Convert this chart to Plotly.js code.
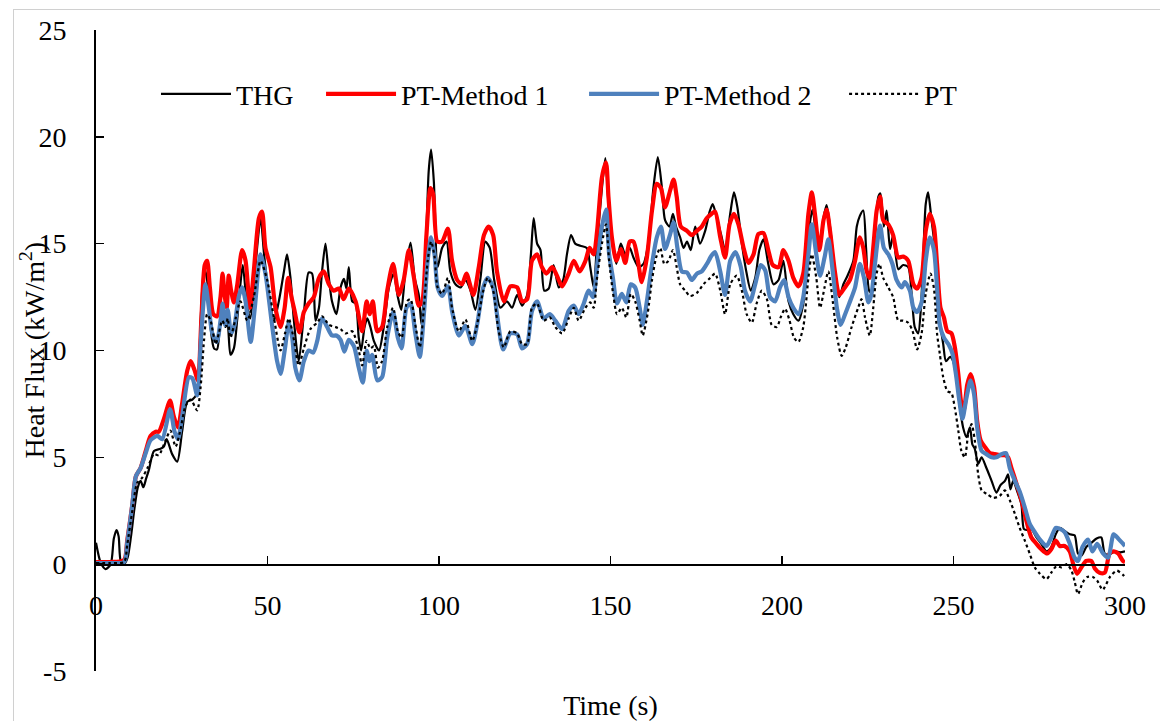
<!DOCTYPE html>
<html>
<head>
<meta charset="utf-8">
<script src="https://cdn.plot.ly/plotly-3.0.1.min.js"></script>
<style>
  html, body { margin:0; padding:0; overflow:hidden; background:#fff; }
  #frame { position:absolute; left:13px; top:9px; width:1300px; height:900px; border:1px solid #d0d0d0; pointer-events:none; }
  #chart { position:absolute; left:0; top:0; width:1160px; height:721px; }
</style>
</head>
<body>
<div id="chart"></div>
<div id="frame"></div>
<script>
// Series: [time (s), heat flux (kW/m2)]
const thg = [[0,1.0],[1.4,0.05],[2.8,-0.23],[4.3,0],[5.2,1.2],[6.0,1.6],[6.6,1.3],[7.2,0.15],[8.2,0],[9.2,0.3],[10.2,1.3],[11.2,2.6],[12.2,3.6],[13,3.9],[13.8,3.6],[14.6,4.0],[15.4,4.4],[16.9,5.3],[18.8,5.4],[19.8,5.5],[20.6,5.85],[22.2,5.15],[23.7,4.8],[25.1,6.2],[26.6,7.6],[28.1,7.7],[29.5,8.0],[30.5,11.4],[31.5,13.9],[32.4,13.3],[33.4,11.1],[34.4,10.1],[35.3,10.05],[36.3,11.4],[37.3,11.7],[38.3,11.4],[39.2,9.8],[40.2,10.1],[41.2,11.5],[42.1,13.1],[42.8,14.0],[44.1,12.0],[45,11.5],[46.5,14.0],[48,16.2],[49,14.5],[50.4,12.6],[51.9,11.4],[53.3,12.3],[54.8,13.7],[55.7,14.5],[56.7,13.4],[57.7,11.4],[59.1,9.5],[60.6,11.7],[62,13.65],[63,13.6],[64,11.4],[65,12.0],[65.9,13.7],[66.9,15.0],[67.9,13.4],[68.8,12.3],[70.1,11.7],[71.3,12.95],[72.3,13.35],[73,12.9],[73.7,13.9],[74.7,12.3],[75.7,12.2],[76.6,10.6],[77.3,10.0],[78.3,11.1],[79.1,11.5],[80,11.1],[81,10.45],[82.5,10.0],[83.9,11.1],[85.4,12.95],[86.8,13.6],[88,12.5],[89,11.9],[90.2,13.7],[91.7,15.05],[92.9,13.4],[94.1,12.6],[94.9,11.2],[96.1,14.5],[97,18.4],[97.7,19.4],[98.5,17.9],[99.6,13.9],[100.9,14.8],[102.2,15.1],[103.3,13.7],[104.8,13.1],[106.3,12.95],[107.7,13.3],[109.2,12.8],[110.6,11.9],[112.1,13.4],[113.5,15.1],[114.8,14.8],[116.1,13.3],[117.9,12.0],[119.8,12.3],[121.3,12.0],[122.8,12.6],[124.2,12.1],[125.7,12.6],[126.8,14.5],[127.6,16.2],[128.6,15.0],[129.6,14.7],[130.7,12.8],[132,12.9],[133.4,14.0],[134.9,12.95],[136.2,13.3],[137.3,14.5],[138.5,15.4],[139.7,15.0],[141.2,14.9],[143.1,14.8],[144.1,13.9],[145.1,12.95],[146,14.8],[147.5,17.6],[148.5,19.0],[149.4,16.9],[150.4,15.3],[151.7,14.05],[153,15.0],[154.3,14.5],[155.6,14.8],[156.7,14.35],[158.2,13.9],[159.6,14.05],[161.1,15.1],[162.5,17.6],[163.8,19.05],[165,17.6],[165.9,16.1],[167.2,15.8],[168.2,16.4],[169.1,15.8],[170.3,15.3],[171.3,14.8],[172.3,15.1],[173.4,14.7],[174.7,15.8],[176.1,15.0],[177.6,15.6],[178.9,16.5],[179.8,16.85],[181,16.2],[182.2,15.45],[183.4,14.7],[184.9,16.4],[186,17.4],[187,16.7],[188.3,15.0],[189.7,13.6],[190.9,12.8],[192.2,13.4],[193.4,14.7],[194.6,15.2],[196,14.05],[197.5,13.1],[199,13.3],[200.4,14.2],[201.9,12.3],[203.3,11.7],[204.8,11.4],[206.2,12.2],[207.7,15.45],[208.9,16.6],[210.1,15.3],[211.1,14.9],[212.1,16.2],[213,16.8],[214,15.8],[215.5,13.6],[216.7,12.5],[217.9,13.1],[219.1,13.5],[220.8,14.2],[221.8,15.8],[222.7,16.3],[223.7,16.55],[224.5,14.8],[225.4,12.8],[226.1,12.7],[227.1,15.3],[228.1,17.2],[228.7,17.35],[229.7,15.8],[230.5,16.55],[231.5,14.75],[232.4,15.4],[233.9,13.8],[235.3,14.0],[236.8,13.9],[237.8,12.65],[238.7,11.1],[239.7,10.8],[240.5,12.0],[241.2,14.5],[241.9,16.85],[242.6,17.4],[243.6,16.1],[244.6,14.8],[245.2,13.7],[246,11.4],[247,10.3],[247.8,9.5],[249,9.7],[249.9,9.5],[250.9,8.6],[251.9,7.3],[252.8,6.4],[253.8,5.95],[254.8,6.4],[255.5,5.6],[256.2,5.4],[257.2,4.7],[258.2,5.0],[259.6,4.5],[261.1,3.9],[262.5,3.35],[263.7,3.7],[265,3.9],[265.9,4.2],[266.6,3.5],[267.4,3.9],[268.6,3.4],[269.8,2.8],[270.5,1.65],[271.3,1.6],[272.7,1.65],[274.2,1.25],[275.6,0.95],[277.1,0.6],[278.5,0.8],[279.8,1.4],[281,1.7],[282.4,1.55],[283.9,1.4],[285.3,1.35],[286.3,0.5],[287.3,0.4],[288.7,0.8],[290.2,1.0],[291.7,1.2],[293.1,1.25],[294.1,0.5],[295.5,0.45],[297,0.6],[298.5,0.55],[300,0.6]];

const ptMethod1 = [[0,0.1],[4,0.1],[8.2,0.2],[9.1,1.1],[10.6,2.8],[11.6,4.1],[13,4.5],[14.5,5.3],[15.9,6.0],[17.4,6.2],[18.3,6.2],[19.8,6.8],[21.6,7.65],[22.7,6.9],[23.9,6.4],[25.1,7.5],[26.6,9.05],[27.6,9.5],[28.7,9.1],[29.7,8.6],[30.7,11.4],[31.7,14.0],[32.4,14.2],[33.2,12.95],[34.2,11.7],[35.3,11.6],[36.3,12.5],[36.9,13.6],[37.5,12.6],[38.1,12.0],[38.7,13.5],[39.4,12.8],[40.2,12.25],[41.2,13.1],[42.6,14.7],[43.6,14.2],[44.9,12.0],[46,13.7],[47.5,16.2],[48.4,16.5],[49.4,14.8],[50.9,13.9],[52.3,12.0],[53.8,11.1],[55,12.0],[56,13.4],[57,12.5],[57.9,11.85],[59.3,10.85],[60.6,11.8],[62,12.2],[63.5,12.5],[65,13.4],[66.4,13.7],[67.9,13.1],[69.3,12.8],[70.8,12.9],[72.2,12.4],[73.7,12.9],[75.7,12.3],[77.6,10.9],[78.9,12.3],[79.8,11.7],[80.7,12.3],[82,10.9],[83.4,11.1],[84.9,12.8],[86.6,14.05],[88.3,12.6],[89.7,13.3],[91.2,14.7],[92.7,13.4],[94.1,12.1],[95.1,12.3],[96.3,15.3],[97.5,17.6],[98.3,17.3],[99.5,15.1],[100.9,15.1],[102.6,15.7],[103.8,14.2],[105.3,13.3],[106.7,13.1],[108,13.6],[110,12.6],[111.6,13.9],[113.1,15.4],[114.5,15.8],[115.8,15.4],[116.9,13.7],[118.9,12.3],[120.8,13.0],[122.8,12.95],[124.2,12.3],[125.7,12.4],[127.1,14.2],[128.6,14.5],[130,13.9],[131.3,13.6],[133,13.9],[134.4,13.5],[135.9,13.0],[137.8,13.6],[139.3,14.2],[141,13.7],[142.7,14.2],[143.9,14.8],[145.1,14.5],[146.1,15.6],[147.5,18.1],[148.7,18.8],[149.4,17.2],[150.4,15.3],[151.7,14.2],[153,14.75],[154.3,14.1],[155.6,15.1],[156.7,15.1],[158,14.2],[159.1,13.2],[160.6,14.35],[162.1,16.55],[163.5,17.8],[164.7,17.6],[165.9,16.7],[167.4,17.5],[168.4,18.0],[169.3,17.2],[170.5,15.8],[172.3,15.6],[173.7,15.4],[175.2,15.6],[176.6,15.8],[178.1,16.2],[179.5,16.4],[180.5,16.5],[182,15.3],[183.4,14.35],[184.7,15.9],[186,16.4],[187.3,15.9],[188.8,14.8],[190.2,14.1],[191.7,14.5],[193.1,15.45],[194.6,15.5],[196,14.7],[197.3,14.0],[199,13.9],[200.4,14.7],[201.9,14.2],[203.3,13.4],[204.8,13.0],[206.2,13.6],[207.7,16.4],[208.7,17.4],[209.6,16.4],[210.9,14.7],[212.1,16.1],[213,16.6],[214,15.6],[215.5,13.6],[216.7,12.6],[218.1,12.9],[219.8,13.3],[221.3,14.2],[222.7,15.3],[223.7,14.8],[224.7,13.7],[225.6,13.4],[226.6,14.8],[227.6,16.55],[228.6,17.2],[229.5,16.1],[231,15.9],[232.4,15.4],[233.9,14.35],[235.3,14.4],[236.8,14.2],[238.3,13.1],[239.4,12.9],[240.7,13.4],[241.9,15.6],[243.1,16.4],[244.3,15.8],[245.2,14.05],[246.2,12.0],[247.2,11.55],[248.2,10.9],[249.4,10.8],[250.4,10.15],[251.4,8.9],[252.3,7.5],[253,7.2],[254,8.4],[255,8.9],[256,8.3],[256.9,6.7],[257.9,5.8],[259.1,5.5],[260.6,5.2],[262,5.15],[263.5,5.1],[265,5.1],[265.9,5.0],[266.9,4.5],[268.4,3.75],[269.8,3.0],[271.3,2.0],[272.7,1.25],[274.2,0.95],[275.6,0.7],[277.3,0.5],[278.5,0.7],[279.8,1.1],[281,0.85],[282.4,0.85],[283.9,0.6],[284.9,0],[286,-0.45],[287.3,-0.15],[288.7,0.15],[290.2,0.15],[291.2,-0.2],[292.6,-0.4],[294.1,-0.4],[295.5,0.5],[296.7,0.6],[298,0.5],[299.4,0.15],[300,0.1]];

const ptMethod2 = [[0,0.05],[4,0.05],[8.2,0.1],[9.1,1.0],[10.6,2.8],[11.6,4.1],[13,4.5],[14.5,5.2],[15.9,5.8],[17.9,6.0],[19.3,5.85],[21.6,7.25],[22.9,6.2],[23.9,5.85],[25.1,6.9],[27.1,8.75],[28.1,8.7],[29.5,7.9],[30.7,10.8],[31.9,13.1],[32.9,12.0],[33.9,10.8],[35.2,10.4],[36.3,11.4],[36.9,12.2],[37.6,11.2],[38.4,11.9],[39.4,10.8],[40.4,11.2],[41.6,12.5],[42.6,12.95],[43.6,12.3],[45.1,10.4],[46.3,12.0],[48,14.5],[49.4,13.6],[51.4,11.1],[52.8,9.5],[53.8,8.9],[55.1,10.1],[56.2,11.3],[57.2,10.6],[58.1,9.2],[59.3,8.6],[60.6,9.5],[62,10.0],[63.3,9.9],[64.5,10.45],[65.9,11.5],[67.4,11.1],[68.8,10.7],[70.1,10.7],[71.3,10.5],[72.4,9.95],[73.7,10.5],[75.2,10.2],[76.6,9.2],[77.8,8.5],[78.9,10.0],[79.7,9.5],[80.5,9.8],[82,8.6],[83.4,8.75],[84.9,10.6],[86.6,11.8],[88,10.6],[89.1,10.1],[90.5,12.0],[91.7,12.2],[93.1,10.8],[94.4,9.7],[95.6,11.7],[96.7,14.2],[97.7,15.3],[98.7,14.5],[99.6,12.95],[100.9,12.55],[102.6,13.0],[103.8,11.85],[105.8,10.7],[107.7,11.15],[109.7,10.3],[111.1,11.2],[112.9,12.95],[114.2,13.4],[115.8,12.95],[116.9,11.7],[118.7,10.05],[120.8,10.8],[122.8,10.75],[124.2,10.1],[125.7,10.3],[127.1,11.85],[128.6,12.3],[130.5,11.5],[132.3,11.7],[133.9,11.4],[135.9,11.0],[137.8,11.85],[139.3,12.1],[140.7,11.7],[142.2,12.2],[143.6,12.8],[144.9,12.5],[146.1,14.0],[147.5,15.8],[148.7,16.6],[149.6,14.5],[150.7,13.4],[151.9,12.2],[153.3,12.65],[154.6,12.25],[155.9,13.1],[157.2,12.95],[158.5,12.0],[159.4,11.2],[160.6,12.3],[162.1,14.05],[163.5,15.3],[164.7,15.8],[165.9,14.75],[167.4,15.45],[168.4,16.0],[169.5,14.8],[170.8,13.7],[172.3,13.65],[173.7,13.3],[175.2,13.6],[176.6,13.7],[178.1,14.05],[179.5,14.45],[180.5,14.6],[182,13.7],[183.4,12.6],[184.9,14.2],[186.5,14.6],[188,13.9],[189.2,12.8],[190.7,12.3],[192.2,13.1],[193.8,14.0],[195.1,13.75],[196.5,12.5],[198,12.3],[199.4,12.95],[200.6,13.3],[201.9,12.5],[203.3,12.0],[204.8,11.7],[206.2,12.5],[207.7,14.5],[208.7,15.9],[210,14.5],[211.1,13.5],[212.4,14.35],[213.5,15.2],[214.8,13.7],[216,12.0],[217.1,11.2],[218.4,11.7],[219.6,12.2],[221.3,12.95],[222.7,14.05],[223.9,13.4],[225.2,12.25],[226.1,12.65],[227.1,14.05],[228.6,15.85],[229.7,14.8],[231,14.5],[232.2,14.05],[233.4,13.3],[234.9,12.95],[235.8,13.2],[237.3,12.8],[238.3,12.0],[239.4,11.8],[240.7,12.25],[241.9,14.2],[243.1,15.3],[244.3,14.7],[245.2,12.95],[246,11.2],[247.2,10.6],[248.5,10.3],[249.7,9.85],[250.7,8.9],[251.7,7.65],[252.6,6.8],[253.8,7.8],[255,8.6],[256,7.95],[256.9,6.4],[258.2,5.3],[259.6,5.15],[261.1,5.0],[262.5,5.0],[264,5.15],[265.3,5.2],[266.4,4.5],[267.9,3.9],[269.3,3.4],[270.8,2.65],[272.2,1.9],[273.7,1.5],[275.2,1.15],[277.1,0.85],[278.5,1.25],[279.8,1.7],[281,1.65],[282.4,1.5],[283.9,0.95],[285.3,0.3],[286.3,0.15],[287.6,0.8],[289.2,1.15],[290.5,0.6],[291.9,0.95],[293.6,0.5],[295.1,0.3],[296.7,1.4],[298.3,1.15],[300,0.85]];

const pt = [[0,0.05],[4,0.05],[8.2,0.1],[9.1,0.9],[10.6,2.5],[12,3.8],[13.5,4.05],[15,4.5],[16.9,5.15],[18.3,5.1],[20.3,5.8],[21.7,6.25],[23.2,5.5],[24.5,6.2],[26.1,7.4],[27.6,7.7],[29.5,7.2],[30.5,8.3],[31.5,10.5],[32.4,11.7],[33.4,11.4],[34.9,10.3],[35.8,10.8],[36.8,11.4],[37.8,11.1],[38.4,11.5],[39.2,10.6],[40.7,11.5],[42.1,12.3],[44.1,11.4],[46,12.5],[48,14.2],[49.9,13.3],[51.9,11.5],[53.8,10.0],[55.1,10.8],[56.2,11.5],[57.7,10.5],[59.1,9.3],[60.6,10.1],[62.5,11.0],[64.5,11.3],[65.9,11.6],[67.9,11.2],[69.8,11.1],[71.3,11.0],[72.8,10.8],[74.7,10.9],[76.6,10.0],[77.6,9.3],[78.9,10.45],[80,10.1],[81,10.2],[82.2,9.2],[83.4,9.5],[84.9,11.1],[86.6,12.0],[88,10.9],[89.1,10.6],[90.7,12.3],[91.7,12.4],[93.1,11.2],[94.4,10.15],[95.6,12.0],[96.7,14.2],[97.7,15.1],[98.7,14.4],[99.6,12.95],[100.9,12.65],[102.6,13.4],[103.8,12.0],[105.8,10.9],[107.7,11.45],[109.7,10.45],[111.1,11.2],[112.9,12.8],[114.2,13.4],[115.8,12.8],[117.4,10.9],[118.9,10.15],[120.8,10.9],[122.8,10.8],[124.2,10.3],[125.7,10.3],[127.1,12.0],[128.6,12.2],[130.5,11.4],[132.3,11.55],[133.9,11.1],[135.9,10.8],[137.8,11.5],[139.3,12.0],[140.7,11.4],[142.7,12.0],[144.1,12.25],[145.1,12.0],[146,13.3],[147.5,15.0],[148.7,15.9],[149.6,14.2],[150.9,12.5],[151.9,11.7],[153.3,12.0],[154.6,11.55],[155.9,12.65],[157.2,12.3],[158.5,11.4],[159.4,10.7],[160.8,11.7],[162.1,13.3],[163.3,14.35],[164.5,14.8],[165.7,14.05],[166.9,14.2],[168.2,14.7],[169.3,13.9],[170.3,13.1],[171.8,12.8],[173.2,12.55],[175.2,12.7],[177.1,13.1],[179.1,13.4],[180.5,13.6],[182,12.8],[183.4,11.7],[184.9,13.1],[186.8,13.5],[188.3,12.8],[189.7,11.7],[191.2,11.3],[192.6,12.2],[194.1,12.8],[195.6,12.4],[197,11.2],[198.5,11.1],[199.6,11.55],[200.9,11.95],[202.2,11.4],[203.5,10.6],[204.8,10.4],[206.2,11.1],[207.7,13.4],[208.7,14.5],[210,13.4],[211.1,12.0],[212.4,12.95],[213.5,13.7],[214.8,12.3],[216.1,10.6],[217.4,9.75],[218.6,10.15],[220.3,11.1],[222.2,12.0],[223.2,12.4],[224.2,11.55],[225.6,10.7],[226.6,12.0],[227.6,13.6],[228.4,14.05],[229.5,13.4],[231,12.95],[232.4,12.5],[233.9,11.4],[235.3,11.4],[236.8,11.3],[238.1,10.9],[239.4,10.05],[240.7,10.8],[241.9,12.65],[243.3,13.6],[244.3,12.9],[245.2,10.8],[246,9.85],[247,8.75],[248.2,8.1],[249.4,8.0],[250.4,7.3],[251.4,6.25],[252.3,5.3],[253.3,5.0],[254.3,6.1],[255.3,6.55],[256.2,5.8],[257.2,4.2],[258.2,3.45],[259.6,3.3],[261.6,3.1],[263.5,3.2],[265,3.45],[266.4,3.0],[267.9,2.35],[269.3,1.7],[270.8,1.1],[272.2,0.5],[273.7,-0.15],[275.2,-0.45],[277.1,-0.7],[278.5,-0.4],[280,-0.1],[281.5,-0.15],[283,0],[284.4,-0.3],[285.3,-0.8],[286.3,-1.4],[287.7,-0.85],[289,-0.6],[290.6,-0.6],[292,-0.8],[293.5,-1.2],[295.6,-0.6],[297.6,-0.3],[299.4,-0.5],[300,-0.6]];

const seriesNames = ['THG', 'PT-Method 1', 'PT-Method 2', 'PT'];
const xTickVals = [0, 50, 100, 150, 200, 250, 300];
const yTickVals = [-5, 0, 5, 10, 15, 20, 25];
const yTickText = ['-5', '0', '5', '10', '15', '20', '25'];

const styles = [
  {color:'#000000', width:2.2, dash:'solid'},
  {color:'#FF0000', width:4.2, dash:'solid'},
  {color:'#4F81BD', width:4.2, dash:'solid'},
  {color:'#000000', width:2.2, dash:'dot'}
];

const legendIds = ['legend', 'legend2', 'legend3', 'legend4'];
const legendX = [0.0583, 0.2187, 0.4743, 0.727];

const allSeries = [thg, ptMethod1, ptMethod2, pt];
const traces = allSeries.map((s, i) => ({
  type:'scatter', mode:'lines', name:seriesNames[i], legend:legendIds[i],
  x:s.map(p => p[0]), y:s.map(p => p[1]),
  line:{color:styles[i].color, width:styles[i].width, dash:styles[i].dash, shape:'spline', smoothing:0.7}
}));

const FONT = '"Liberation Serif", "Times New Roman", Times, serif';

const layout = {
  width:1160, height:721,
  margin:{l:96, r:35, t:30, b:50},
  paper_bgcolor:'#ffffff', plot_bgcolor:'#ffffff',
  font:{family:FONT, size:28, color:'#000000'},
  showlegend:true,
  xaxis:{
    range:[0,300], tickvals:xTickVals, ticks:'inside', ticklen:8, tickwidth:1.5, tickcolor:'#000',
    showline:true, linecolor:'#000', linewidth:1.5, showgrid:false, zeroline:false,
    anchor:'free', position:5/30, ticklabelstandoff:16,
    tickfont:{family:FONT, size:28},
    title:{text:'Time (s)', standoff:80, font:{family:FONT, size:28}}
  },
  yaxis:{
    range:[-5,25], tickvals:yTickVals, ticktext:yTickText, ticks:'inside', ticklen:8, tickwidth:1.5, tickcolor:'#000',
    showline:true, linecolor:'#000', linewidth:2, showgrid:false, zeroline:false,
    ticklabelstandoff:22,
    tickfont:{family:FONT, size:28},
    title:{text:''}
  },
  annotations:[{
    text:'Heat Flux (kW/m<sup>2</sup>)', textangle:-90, xref:'paper', yref:'paper',
    x:(33-96)/1029, y:0.5, xanchor:'center', yanchor:'middle', showarrow:false,
    font:{family:FONT, size:28, color:'#000'}
  }]
};

legendIds.forEach((id, i) => {
  layout[id] = {
    orientation:'h', x:legendX[i], xanchor:'left', y:0.9, yanchor:'middle',
    itemwidth:70, bgcolor:'rgba(0,0,0,0)', font:{family:FONT, size:28, color:'#000'}
  };
});

Plotly.newPlot('chart', traces, layout, {displayModeBar:false, staticPlot:true});
</script>
</body>
</html>
